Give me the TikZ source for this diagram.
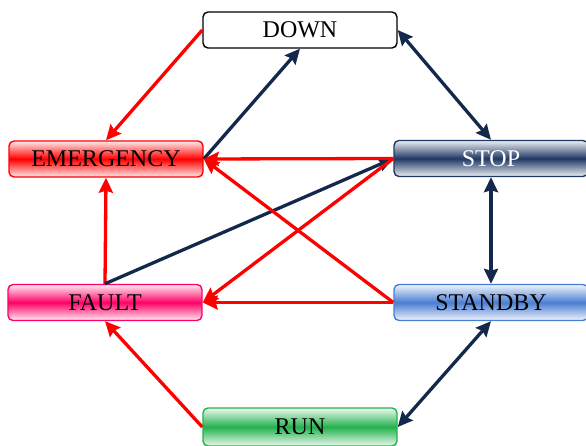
\documentclass[tikz,border=0pt]{standalone}
\usepackage{fontspec}
\setmainfont{Liberation Serif}
\usetikzlibrary{arrows.meta}
\definecolor{navyline}{RGB}{19,41,75}
\definecolor{stopblue}{RGB}{31,56,100}
\definecolor{faultpink}{RGB}{255,0,102}
\definecolor{standbyblue}{RGB}{74,126,210}
\definecolor{runlight}{RGB}{34,177,76}
\tikzset{
	statebox/.style={rounded corners=5pt, minimum width=194pt, minimum height=36pt,
		inner sep=0pt, line width=1.4pt, font=\fontsize{24}{28}\selectfont},
	shadebox/.style={statebox, draw=#1, top color=#1!8!white, bottom color=#1!8!white, middle color=#1},
	redarrow/.style={line width=3.3pt, draw=red, -{Stealth[length=15pt,width=14pt,inset=2pt]}},
	navyarrow/.style={line width=3.3pt, draw=navyline, -{Stealth[length=15pt,width=14pt,inset=2pt]}},
	navyboth/.style={navyarrow, {Stealth[length=15pt,width=14pt,inset=2pt]}-{Stealth[length=15pt,width=14pt,inset=2pt]}}
}

\begin{document}
\begin{tikzpicture}[x=1pt, y=-1pt]
		%%%%% START %%%%%
		\useasboundingbox (0, 0) rectangle (586, 446);
		
		\node[statebox, draw=black, fill=white] (down) at (300, 30) {DOWN};
		\node[shadebox=red] (emergency) at (106, 159) {EMERGENCY};
		\node[shadebox=stopblue, text=white] (stop) at (491, 158.5) {STOP};
		\node[shadebox=faultpink] (fault) at (105, 302.5) {FAULT};
		\node[shadebox=standbyblue] (standby) at (491, 302.5) {STANDBY};
		\node[shadebox=runlight, minimum height=38pt] (run) at (300, 427) {RUN};
		
		\draw[redarrow] (down.west) -- (emergency.north);
		\draw[navyarrow] (emergency.east) -- (down.south);
		\draw[navyboth] (down.east) -- (stop.north);
		\draw[navyboth] (stop.south) -- (standby.north);
		\draw[navyboth] (standby.south) -- (run.east);
		
		\draw[redarrow] (run.west) -- (fault.south);
		\draw[redarrow] (fault.north) -- (emergency.south);
		\draw[navyarrow] (fault.north) -- (stop.west);
		
		\draw[redarrow] (stop.west) -- (emergency.east);
		\draw[redarrow] (stop.west) -- (fault.east);
		\draw[redarrow] (standby.west) -- (emergency.east);
		\draw[redarrow] (standby.west) -- (fault.east);
		
		%%%%% END %%%%%
	\end{tikzpicture}
\end{document}
